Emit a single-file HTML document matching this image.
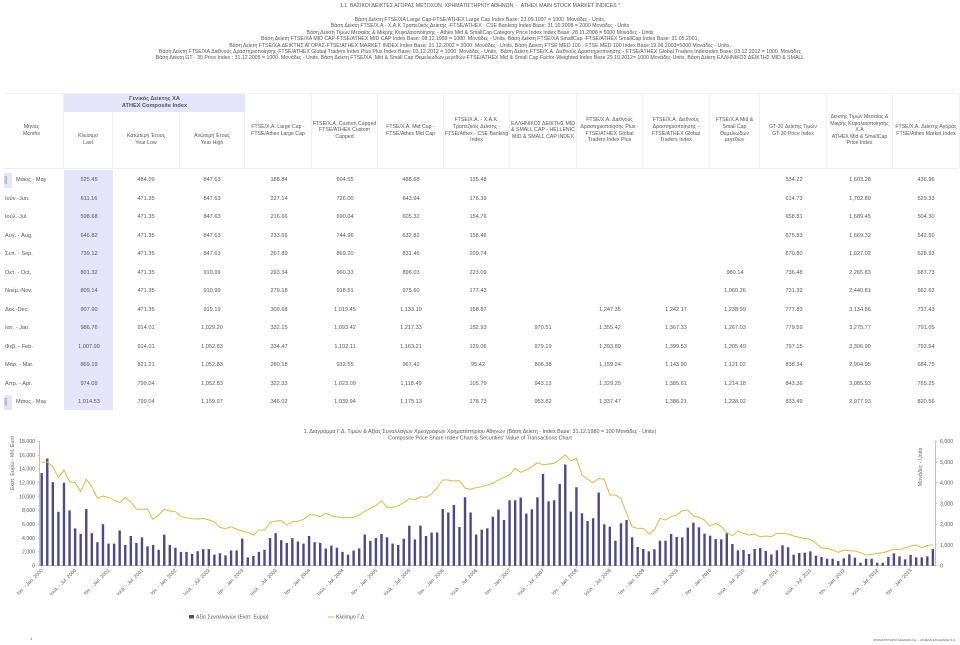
<!DOCTYPE html>
<html><head><meta charset="utf-8">
<style>
html,body{margin:0;padding:0;background:#fff;}
body{width:960px;height:645px;position:relative;overflow:hidden;font-family:"Liberation Sans","DejaVu Sans",sans-serif;color:#555;}
.t{position:absolute;white-space:nowrap;font-size:5.6px;line-height:6.5px;}
.c{transform:translateX(-50%);text-align:center;}
.hd{position:absolute;font-size:5.2px;line-height:6.6px;text-align:center;display:flex;align-items:center;justify-content:center;color:#555;border-right:1px solid #f0f0f0;box-sizing:border-box;white-space:nowrap;}
.ttl{position:absolute;left:0;width:960px;text-align:center;font-size:5.2px;line-height:6.4px;color:#555;}
</style></head>
<body>
<div class="ttl" style="top:3px;">1.1&nbsp; ΒΑΣΙΚΟΙ ΔΕΙΚΤΕΣ ΑΓΟΡΑΣ ΜΕΤΟΧΩΝ&nbsp; ΧΡΗΜΑΤΙΣΤΗΡΙΟΥ ΑΘΗΝΩΝ &nbsp;-&nbsp; ATHEX MAIN STOCK MARKET INDICES *</div>
<div class="ttl" style="top:17px;">
Βάση Δείκτη FTSE/XA Large Cap-FTSE/ATHEX Large Cap Index Base: 23.09.1997 = 1000&nbsp; Μονάδες - Units,<br>
Βάση Δείκτη FTSE/X.A - X.A.K Τραπεζικός Δείκτης -FTSE/ATHEX - CSE Banking Index Base: 31.10.2008 = 2000 Μονάδες - Units<br>
Βάση Δείκτη Τιμών Μεσαίας &amp; Μικρής Κεφαλαιοποίησης - Athex Mid &amp; SmallCap Category Price Index Index Base: 28.11.2008 = 5000 Μονάδες - Units<br>
Βάση Δείκτη FTSE/XA MID CAP-FTSE/ATHEX MID CAP Index Base: 08.12.1999 = 1000&nbsp; Μονάδες - Units, Βάση Δείκτη FTSE/XA SmallCap -FTSE/ATHEX SmallCap Index Base: 31.05.2001,<br>
Βάση Δείκτη FTSE/XA ΔΕΙΚΤΗΣ ΑΓΟΡΑΣ-FTSE/ATHEX MARKET INDEX Index Base: 31.12.2002 = 2000&nbsp; Μονάδες - Units, Βάση Δείκτη FTSE MED 100 - FTSE MED 100 Index Base:19.06.2003=5000 Μονάδες - Units,<br>
Βάση Δείκτη FTSE/XA Διεθνούς Δραστηριοποίησης-FTSE/ATHEX Global Traders Index Plus Plus Index Base: 03.12.2012 = 1000&nbsp; Μονάδες - Units,&nbsp; Βάση Δείκτη FTSE/X.A. Διεθνούς Δραστηριοποίησης - FTSE/ATHEX Global Traders Indexndex Base: 03.12.2012 = 1000&nbsp; Μονάδες<br>
Βάση Δείκτη GT - 30 Price Index : 31.12.2005 = 1000&nbsp; Μονάδες - Units, Βάση Δείκτη FTSE/XA&nbsp; Mid &amp; Small Cap Θεμελιωδών μεγεθών-FTSE/ATHEX Mid &amp; Small Cap Factor-Weighted Index Base 29.10.2012= 1000 Μονάδες-Units, Βάση Δείκτη ΕΛΛΗΝΙΚΟΣ ΔΕΙΚΤΗΣ MID &amp; SMALL
</div>

<div id="table">
<div style="position:absolute;left:64px;top:170px;width:49px;height:240px;background:#e4e4fa;"></div>
<div style="position:absolute;left:64px;top:93px;width:181px;height:19px;background:#e4e4fa;font-size:5.6px;line-height:6.6px;text-align:center;padding-top:3px;box-sizing:border-box;color:#555;font-weight:bold;">Γενικός Δείκτης ΧΑ<br>ATHEX Composite Index</div>
<div style="position:absolute;left:3px;top:168px;width:955px;height:1px;background:#eee;"></div>
<div style="position:absolute;left:3px;top:93px;width:955px;height:1px;background:#f3f3f3;"></div>
</div>

<svg id="chart" width="960" height="645" style="position:absolute;left:0;top:0;" xmlns="http://www.w3.org/2000/svg"></svg>

<div class="t" style="left:30px;top:636px;font-size:4px;">1</div>
<div class="t" style="left:873px;top:637px;font-size:3px;">ΧΡΗΜΑΤΙΣΤΗΡΙΟ ΑΘΗΝΩΝ Α.Ε. - ATHENS EXCHANGE S.A.</div>

<script>
// ===== Table data =====
const months = ["Μάιος - May","Ιούν.-Jun.","Ιούλ.-Jul.","Αύγ. - Aug.","Σεπ. - Sep.","Οκτ. - Oct.","Νοέμ.-Nov.","Δεκ.-Dec.","Ιαν. - Jan.","Φεβ. - Feb.","Μάρ. - Mar.","Απρ. - Apr.","Μάιος - May"];
const colLast = ["525.45","611.16","598.68","646.82","739.12","801.32","809.14","907.90","986.76","1,007.99","869.19","974.09","1,014.53"];
const colLow = ["484.09","471.35","471.35","471.35","471.35","471.35","471.35","471.35","914.01","914.01","821.21","799.04","799.04"];
const colHigh = ["847.63","847.63","847.63","847.63","847.63","910.99","910.99","919.19","1,029.20","1,052.83","1,052.83","1,052.83","1,159.97"];
const colLarge = ["188.84","227.14","216.66","233.66","267.89","293.34","279.18","309.68","332.15","334.47","280.18","322.33","346.02"];
const colCustom = ["604.55","726.00","690.04","744.96","869.20","960.33","918.51","1,019.45","1,093.42","1,102.11","932.55","1,023.09","1,039.94"];
const colMid = ["488.68","643.94","605.32","632.82","831.46","896.03","975.60","1,133.19","1,217.33","1,163.21","967.42","1,118.49","1,175.13"];
const colBank = ["135.48","176.39","154.76","158.46","209.74","223.09","177.43","168.87","152.93","129.06","95.42","105.79","178.73"];
const colHellenic = ["","","","","","","","","970.51","979.19","806.38","943.13","953.82"];
const colGPlus = ["","","","","","","","1,247.35","1,355.42","1,393.89","1,159.24","1,329.25","1,337.47"];
const colGlobal = ["","","","","","","","1,242.17","1,367.33","1,399.53","1,143.90","1,385.61","1,386.21"];
const colMidSmall = ["","","","","","980.14","1,060.26","1,238.99","1,267.03","1,305.49","1,121.02","1,214.18","1,228.02"];
const colGT30 = ["534.22","614.73","658.81","675.83","670.80","736.48","731.32","777.83","779.59","797.15","838.34","843.36","833.49"];
const colMSPrice = ["1,603.28","1,702.80","1,689.45","1,669.32","1,927.02","2,265.83","2,440.81","3,134.86","3,275.77","3,306.90","2,904.95","3,085.93","2,977.93"];
const colMarket = ["436.96","529.33","504.30","542.50","628.93","687.73","662.63","737.43","791.05","793.94","684.75","765.25","820.56"];

const headers = [
 [0,64,"Μήνας<br>Months","month-header"],
 [64,113,"Κλείσιμο<br>Last","last-header"],
 [113,180,"Κατώτερη Έτους<br>Year Low","year-low-header"],
 [180,245,"Ανώτερη Έτους<br>Year High","year-high-header"],
 [245,312,"FTSE/X.A. Large Cap -<br>FTSE/Athex Large Cap","large-cap-header"],
 [312,378,"FTSE/X.A. Custom Capped<br>FTSE/ATHEX Custom<br>Capped","custom-capped-header"],
 [378,444,"FTSE/X.A. Mid Cap -<br>FTSE/Athex Mid Cap","mid-cap-header"],
 [444,510,"FTSE/X.A. - X.A.K.<br>Τραπεζικός Δείκτης -<br>FTSE/Athex - CSE Banking<br>Index","banking-header"],
 [510,577,"ΕΛΛΗΝΙΚΟΣ ΔΕΙΚΤΗΣ MID<br>&amp; SMALL CAP - HELLENIC<br>MID &amp; SMALL CAP INDEX","hellenic-mid-small-header"],
 [577,643,"FTSE/X.A. Διεθνούς<br>Δραστηριοποίησης Plus -<br>FTSE/ATHEX Global<br>Traders Index Plus","global-plus-header"],
 [643,710,"FTSE/X.A. Διεθνούς<br>Δραστηριοποίησης -<br>FTSE/ATHEX Global<br>Traders Index","global-traders-header"],
 [710,760,"FTSE/X.A Mid &amp;<br>Small Cap<br>Θεμελιωδών<br>μεγεθών","mid-small-factor-header"],
 [760,827,"GT-30 Δείκτης Τιμών<br>GT-30 Price Index","gt30-header"],
 [827,893,"Δείκτης Τιμών Μεσαίας &amp;<br>Μικρής Κεφαλαιοποίησης<br>X.A<br>ATHEX Mid &amp; SmallCap<br>Price Index","mid-small-price-header"],
 [893,960,"FTSE/X.A. Δείκτης Αγοράς<br>FTSE/Athex Market Index","market-index-header"]
];
const tbl = document.getElementById('table');
headers.forEach(h => {
  const d = document.createElement('div');
  d.className = 'hd';
  d.style.left = h[0] + 'px'; d.style.width = (h[1]-h[0]) + 'px';
  const top = (h[0] >= 64 && h[0] < 245) ? 112 : 93;
  d.style.top = top + 'px'; d.style.height = (168-top) + 'px';
  d.innerHTML = h[2];
  
  
  tbl.appendChild(d);
});
const cols = [colLast,colLow,colHigh,colLarge,colCustom,colMid,colBank,colHellenic,colGPlus,colGlobal,colMidSmall,colGT30,colMSPrice,colMarket];
const colCenters = [89,146,212,279,345,411,478,543,610,676,735,794,860,926];
months.forEach((m, r) => {
  const y = 177 + r*18.5;
  const ml = document.createElement('div');
  ml.className = 't';
  ml.style.left = (r===0||r===12 ? 16 : 5) + 'px'; ml.style.top = y + 'px';
  ml.textContent = m;
  
  
  tbl.appendChild(ml);
  if (r===0 || r===12) {
    const b = document.createElement('div');
    b.style.cssText = 'position:absolute;left:4px;width:8px;height:15px;background:#e4e4fa;font-size:3.6px;color:#666;';
    b.style.top = (y-4) + 'px';
    b.innerHTML = '<div style="transform:rotate(-90deg);position:absolute;left:-2px;top:5px;">' + (r===0?'2012':'2013') + '</div>';
    
    
    tbl.appendChild(b);
  }
  cols.forEach((col, ci) => {
    if (!col[r]) return;
    const d = document.createElement('div');
    d.className = 't c';
    d.style.left = colCenters[ci] + 'px'; d.style.top = y + 'px';
    d.textContent = col[r];
    
    
    tbl.appendChild(d);
  });
});
</script>

<script>
// ===== Chart data (Jan 2000 .. May 2013, monthly) =====
const startYear = 2000;
const valueTransactions = [
13400,15500,12100,7800,12000,8000,5400,4600,8200,4700,
3400,6000,3200,3200,5100,3000,4300,3300,4100,2800,
3000,2300,4500,3000,2600,2000,2000,1700,2100,2400,
2400,1600,1800,1500,2200,2200,3900,1200,1400,2000,
2300,4000,4700,3700,3300,4000,3500,3200,4300,3400,
3300,2500,2900,2600,2000,1600,2200,2500,4500,3600,
4000,4600,4100,3200,3000,3900,5800,3800,5800,4300,
4800,4800,8200,7700,8800,5600,9900,7700,4500,
5220,5410,7100,8120,6620,9470,9470,9860,7540,8160,
9900,13290,9320,9470,11840,14640,7830,11350,7580,6470,
6860,10580,5990,5650,3620,6140,6620,4110,2710,2420,
2080,2370,3620,3620,4590,4150,4110,5510,6230,5560,
4640,4350,3860,3820,4690,3140,2220,2270,1690,2420,
2560,2130,1640,2220,2950,2660,1590,1840,1880,2080,
1450,1260,1010,1010,680,1060,1640,1160,430,1010,
1010,430,430,1260,1790,1350,920,1550,1210,1210,
1350,2420];
const compositeClose = [
4985,5001,4776,4245,4615,4052,4004,3570,4165,3811,
3248,3361,3296,3168,3039,3280,3087,2733,2717,2733,
2235,2444,2717,2637,2605,2364,2315,2267,2251,2283,
2203,2123,1849,1785,1881,1753,1672,1608,1479,1721,
1721,2074,2155,2171,1962,2123,2139,2235,2444,2460,
2364,2525,2412,2348,2315,2315,2332,2444,2621,2766,
2894,3136,2814,2814,2894,3039,3232,3184,3329,3296,
3457,3763,4133,4133,4084,4100,3747,3682,3763,
3811,3891,3972,4133,4261,4374,4695,4503,4615,4776,
4969,4856,4904,4937,5129,5338,5065,5178,4374,4165,
4004,4213,4165,3409,3409,3248,2525,1881,1801,1801,
1528,1721,2283,2203,2364,2444,2653,2685,2396,2332,
2203,1914,2042,1881,1592,1447,1672,1560,1479,1528,
1399,1431,1399,1560,1560,1528,1431,1367,1319,1270,
1077,852,836,756,643,756,724,708,627,515,
547,595,627,708,788,772,868,949,997,868,
981,997];
const leftTicks = [0,2000,4000,6000,8000,10000,12000,14000,16000,18000];
const rightTicks = [0,1000,2000,3000,4000,5000,6000];
const monthShort = ["Ιαν. - Jan.","Ιούλ. - Jul."];

const NS = 'http://www.w3.org/2000/svg';
const svg = document.getElementById('chart');
const X0 = 41.7, DX = 5.57, Y0 = 565.7, H = 124.4;
const xAt = i => X0 + i*DX;
const yL = v => Y0 - v/18000*H;
const yR = v => Y0 - v/6000*H;
function el(tag, attrs, txt) {
  const e = document.createElementNS(NS, tag);
  for (const k in attrs) e.setAttribute(k, attrs[k]);
  if (txt !== undefined) e.textContent = txt;
  svg.appendChild(e);
  return e;
}
const F = 'font-family:"Liberation Sans","DejaVu Sans",sans-serif;';

let t1 = el('text', {x:480, y:433, 'text-anchor':'middle', 'font-size':5.4, fill:'#555', style:F}, '1.  Διάγραμμα Γ.Δ. Τιμών & Αξίας Συναλλαγών Χρεογράφων Χρηματιστηρίου Αθηνών (Βάση Δείκτη - Index Base: 31.12.1980 = 100 Μονάδες - Units)');


let t2 = el('text', {x:480, y:439.5, 'text-anchor':'middle', 'font-size':5.4, fill:'#555', style:F}, "Composite Price Share Index Chart  & Securities' Value of Transactions Chart");



let la = el('line', {x1:39.5, y1:441, x2:39.5, y2:Y0, stroke:'#999', 'stroke-width':0.6});


let ra = el('line', {x1:935.5, y1:441, x2:935.5, y2:Y0, stroke:'#999', 'stroke-width':0.6});


let xa = el('line', {x1:39.5, y1:Y0, x2:935.5, y2:Y0, stroke:'#999', 'stroke-width':0.6});



leftTicks.forEach(v => {
  const tx = el('text', {x:35, y:yL(v)+1.8, 'text-anchor':'end', 'font-size':5.2, fill:'#555', style:F}, v.toLocaleString('en-US'));
  
  
  el('line', {x1:37.5, y1:yL(v), x2:39.5, y2:yL(v), stroke:'#999', 'stroke-width':0.5});
});
rightTicks.forEach(v => {
  const tx = el('text', {x:940, y:yR(v)+1.8, 'text-anchor':'start', 'font-size':5.2, fill:'#555', style:F}, v.toLocaleString('en-US'));
  
  
  el('line', {x1:935.5, y1:yR(v), x2:937.5, y2:yR(v), stroke:'#999', 'stroke-width':0.5});
});
let lt = el('text', {x:0, y:0, 'text-anchor':'middle', 'font-size':5.4, fill:'#666', style:F, transform:'translate(14,463) rotate(-90)'}, 'Εκατ. Ευρώ - Mil. Euro');


let rt = el('text', {x:0, y:0, 'text-anchor':'middle', 'font-size':5.4, fill:'#666', style:F, transform:'translate(922,467) rotate(-90)'}, 'Μονάδες - Units');



valueTransactions.forEach((v, i) => {
  const b = el('rect', {x:xAt(i)-1.2, y:yL(v), width:2.4, height:Y0-yL(v), fill:'#4d4b85'});
  
  
});
const pts = compositeClose.map((v, i) => xAt(i).toFixed(2) + ',' + yR(v).toFixed(2)).join(' ');
let pl = el('polyline', {points:pts, fill:'none', stroke:'#d9b94c', 'stroke-width':1});



for (let i = 0; i < valueTransactions.length; i += 6) {
  const x = xAt(i);
  el('line', {x1:x, y1:Y0, x2:x, y2:Y0+2, stroke:'#999', 'stroke-width':0.5});
  const lbl = monthShort[(i/6)%2] + ' ' + (startYear + Math.floor(i/12));
  const tx = el('text', {x:0, y:0, 'text-anchor':'end', 'font-size':5, fill:'#555', style:F, transform:'translate(' + (x+1.5) + ',' + (Y0+5) + ') rotate(-45)'}, lbl);
  
  
}

let lg1 = el('rect', {x:189, y:615, width:5, height:3.5, fill:'#4d4b85'});


let lg1t = el('text', {x:196, y:618.5, 'font-size':5.2, fill:'#555', style:F}, 'Αξία Συναλλαγών (Εκατ. Ευρώ)');


let lg2 = el('line', {x1:328, y1:617, x2:334, y2:617, stroke:'#d9b94c', 'stroke-width':1});


let lg2t = el('text', {x:336, y:618.5, 'font-size':5.2, fill:'#555', style:F}, 'Κλείσιμο Γ.Δ');


</script>
</body></html>
